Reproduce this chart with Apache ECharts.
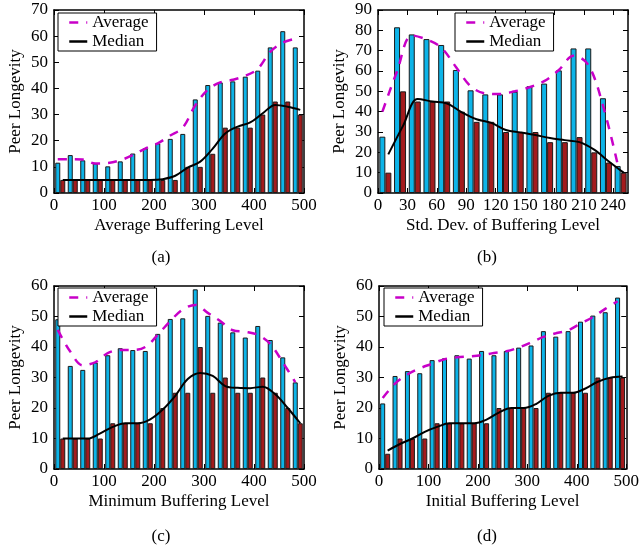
<!DOCTYPE html>
<html>
<head>
<meta charset="utf-8">
<script src="https://cdn.jsdelivr.net/npm/echarts@6/dist/echarts.min.js"></script>
<style>
  html, body { margin: 0; padding: 0; background: #fff; }
  #chart { width: 642px; height: 546px; }
</style>
</head>
<body>
<div id="chart"></div>
<script>
// (a) Average Buffering Level, bins of 25
const aAvgBars = [11.6, 14.5, 12.5, 11.3, 10.2, 12.1, 15.1, 17.1, 19.0, 20.7, 22.6, 35.8, 41.3, 42.3, 42.7, 44.5, 46.8, 55.7, 61.9, 55.7];
const aMedBars = [5, 5, 5, 5, 5, 5, 5, 5, 5, 5, 10, 10, 15, 25, 25, 25, 30, 35, 35, 30];
const aAvgLine = [12.9, 12.9, 12.8, 11.3, 11.5, 12.5, 14.5, 17, 19, 22, 25, 33.5, 39.5, 42.3, 43.3, 44.8, 47.5, 54, 57.5, 59];
const aMedLine = [5, 5, 5, 5, 5, 5, 5, 5, 5.3, 6.6, 9.7, 12, 17, 22.8, 25.4, 27, 30.5, 33.7, 33, 31.8];

// (b) Std. Dev. of Buffering Level, bins of 15
const bAvgBars = [27.7, 81.5, 78, 75.7, 72.8, 60.5, 50.5, 48.5, 48.5, 49.8, 52.5, 53.8, 60.3, 71.1, 71.1, 46.6, 13.3];
const bMedBars = [10, 50, 45, 45, 45, 40, 35, 35, 30, 30, 30, 25, 25, 27.5, 20, 15, 10];
const bAvgLine = [40, 60, 77.5, 75.5, 71.5, 62, 52.5, 49, 48.7, 50, 52, 55, 60.5, 67.5, 63, 43, 14];
const bMedLine = [19, 33, 46.2, 45, 44, 39.7, 36.3, 34.5, 31, 29.8, 28.5, 27, 26, 25, 21.3, 15.5, 10];

// (c) Minimum Buffering Level, bins of 25
const cAvgBars = [49.1, 33.8, 32.5, 34.9, 37.3, 39.6, 39, 38.7, 44.3, 49.2, 49.4, 58.9, 50.2, 48, 44.8, 43.1, 46.9, 42.3, 36.6, 28.4];
const cMedBars = [10, 10, 10, 10, 15, 15, 15, 15, 20, 25, 25, 40, 25, 30, 25, 25, 30, 25, 20, 15];
const cAvgLine = [45.6, 38.5, 34, 35, 38, 39, 39, 40, 44, 48.5, 52.3, 53.8, 51.2, 48.5, 45.5, 45, 44, 41, 35, 28.5];
const cMedLine = [10, 10, 10, 11.7, 13.8, 15, 15, 16.3, 19.5, 24, 29.5, 31.5, 30.5, 27.2, 26.6, 26.5, 27, 24.5, 20, 15];

// (d) Initial Buffering Level, bins of 25
const dAvgBars = [21.5, 30.5, 32.1, 31.4, 35.7, 36.3, 37.3, 36.2, 38.7, 37.3, 38.7, 39.8, 40.5, 45.2, 43.4, 45.2, 48.3, 50.3, 51.4, 56.2];
const dMedBars = [5, 10, 10, 10, 15, 15, 15, 15, 15, 20, 20, 20, 20, 25, 25, 25, 25, 30, 30, 30];
const dAvgLine = [23.3, 28, 31, 33, 34.5, 36, 36.6, 36.9, 37.3, 38, 38.6, 39.8, 41.5, 43.3, 44.5, 45.5, 47.7, 49.8, 52.5, 55];
const dMedLine = [6, 8.2, 10, 12.2, 13.8, 15, 15, 15, 16.2, 18.5, 20, 20, 21.3, 24, 25, 25, 26.4, 28.6, 29.9, 30.3];

const FONT = 'Liberation Serif';
const CYAN = '#0db4e8';
const RED = '#a31b1d';
const MAGENTA = '#c800c8';

const panels = [
  { label: '(a)', xName: 'Average Buffering Level', bin: 25, xMax: 500, xStep: 100, yMax: 70, off: 5, barW: 5,
    grid: { left: 54, top: 10, width: 250, height: 183 }, legend: { left: 58, top: 13 },
    avgBars: aAvgBars, medBars: aMedBars, avgLine: aAvgLine, medLine: aMedLine, labelPos: [161, 258] },
  { label: '(b)', xName: 'Std. Dev. of Buffering Level', bin: 15, xMax: 255, xStep: 30, yMax: 90, off: 3, barW: 6,
    grid: { left: 378, top: 10, width: 250, height: 183 }, legend: { left: 455, top: 13 },
    avgBars: bAvgBars, medBars: bMedBars, avgLine: bAvgLine, medLine: bMedLine, labelPos: [487, 258] },
  { label: '(c)', xName: 'Minimum Buffering Level', bin: 25, xMax: 500, xStep: 100, yMax: 60, off: 5, barW: 5,
    grid: { left: 54, top: 286, width: 250, height: 183 }, legend: { left: 58, top: 288 },
    avgBars: cAvgBars, medBars: cMedBars, avgLine: cAvgLine, medLine: cMedLine, labelPos: [161, 537] },
  { label: '(d)', xName: 'Initial Buffering Level', bin: 25, xMax: 500, xStep: 100, yMax: 60, off: 5, barW: 5,
    grid: { left: 379, top: 286, width: 249, height: 183 }, legend: { left: 384, top: 288 },
    avgBars: dAvgBars, medBars: dMedBars, avgLine: dAvgLine, medLine: dMedLine, labelPos: [487, 537] }
];

const txt = { fontFamily: FONT, fontSize: 17, color: '#000' };
const grid = [], xAxis = [], yAxis = [], series = [], legend = [], graphic = [];

panels.forEach((p, i) => {
  grid.push(Object.assign({ containLabel: false }, p.grid));
  const tick = { inside: true, length: 5, lineStyle: { color: '#000', width: 1 } };
  const line = { onZero: false, lineStyle: { color: '#000', width: 1.5 } };
  xAxis.push({
    gridIndex: i, type: 'value', min: 0, max: p.xMax, interval: p.xStep,
    name: p.xName, nameLocation: 'middle', nameGap: 24, nameTextStyle: txt,
    axisLine: line, axisTick: tick, splitLine: { show: false },
    axisLabel: Object.assign({ margin: 4, showMaxLabel: p.xMax % p.xStep === 0 }, txt)
  });
  xAxis.push({
    gridIndex: i, type: 'value', position: 'top', min: 0, max: p.xMax, interval: p.xStep,
    axisLine: line, axisTick: tick, splitLine: { show: false }, axisLabel: { show: false }
  });
  yAxis.push({
    gridIndex: i, type: 'value', min: 0, max: p.yMax, interval: 10,
    name: 'Peer Longevity', nameLocation: 'middle', nameGap: 30, nameTextStyle: txt,
    axisLine: line, axisTick: tick, splitLine: { show: false },
    axisLabel: Object.assign({ margin: 6 }, txt)
  });
  yAxis.push({
    gridIndex: i, type: 'value', position: 'right', min: 0, max: p.yMax, interval: 10,
    axisLine: line, axisTick: tick, splitLine: { show: false }, axisLabel: { show: false }
  });

  const centre = k => p.bin * (k + 0.5);
  const xi = 2 * i, yi = 2 * i;
  series.push({
    type: 'bar', xAxisIndex: xi, yAxisIndex: yi, barWidth: p.barW, barGap: '0%',
    itemStyle: { color: CYAN, borderColor: '#1a1a1a', borderWidth: 1 },
    data: p.avgBars.map((v, k) => [centre(k), v]), silent: true
  });
  series.push({
    type: 'bar', xAxisIndex: xi, yAxisIndex: yi, barWidth: p.barW, barGap: '0%',
    itemStyle: { color: RED, borderColor: '#1a1a1a', borderWidth: 1 },
    data: p.medBars.map((v, k) => [centre(k), v]), silent: true
  });
  series.push({
    name: 'Average', type: 'line', xAxisIndex: xi, yAxisIndex: yi, smooth: 0.35,
    symbol: 'none', z: 5,
    lineStyle: { color: MAGENTA, width: 2.5, type: [9, 8] }, itemStyle: { color: MAGENTA },
    data: p.avgLine.map((v, k) => [centre(k) - p.off, v])
  });
  series.push({
    name: 'Median', type: 'line', xAxisIndex: xi, yAxisIndex: yi, smooth: 0.35,
    symbol: 'none', z: 5,
    lineStyle: { color: '#000', width: 2 }, itemStyle: { color: '#000' },
    data: p.medLine.map((v, k) => [centre(k) + p.off, v])
  });

  legend.push({
    orient: 'vertical', left: p.legend.left, top: p.legend.top,
    data: ['Average', 'Median'], selectedMode: false,
    borderColor: '#000', borderWidth: 1, borderRadius: 0, backgroundColor: '#fff',
    padding: [1, 8, 1, 10], itemGap: 2, itemWidth: 18, itemHeight: 10,
    itemStyle: { color: 'transparent', borderColor: 'transparent', borderWidth: 0 },
    lineStyle: { width: 2.5 },
    textStyle: txt
  });

  graphic.push({
    type: 'text', x: p.labelPos[0], y: p.labelPos[1],
    style: { text: p.label, font: '17px "Liberation Serif"', fill: '#000', textAlign: 'center', textVerticalAlign: 'middle' }
  });
});

const chart = echarts.init(document.getElementById('chart'));
chart.setOption({
  animation: false,
  backgroundColor: '#fff',
  grid, xAxis, yAxis, series, legend, graphic
});
</script>
</body>
</html>
